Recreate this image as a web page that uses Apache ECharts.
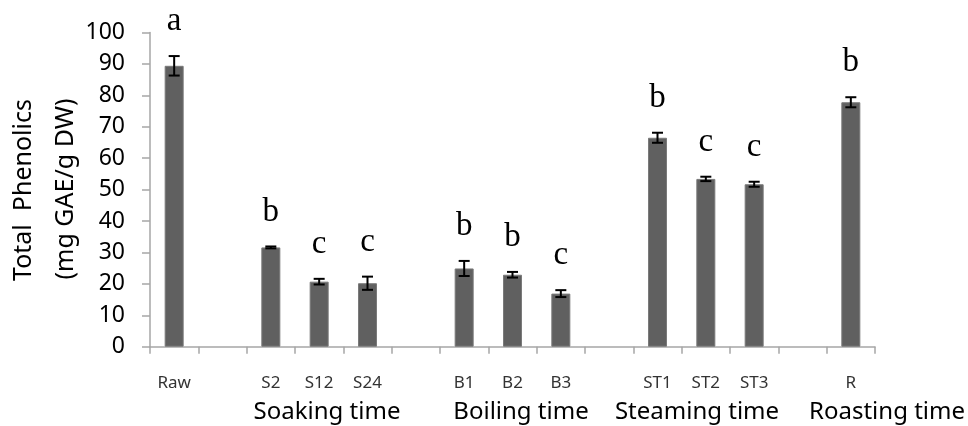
<!DOCTYPE html>
<html>
<head>
<meta charset="utf-8">
<script src="https://cdn.jsdelivr.net/npm/echarts@6/dist/echarts.min.js"></script>
<style>html,body{margin:0;padding:0;background:#fff}#c{width:968px;height:426px}</style>
</head>
<body>
<div id="c"></div>
<script>
const categories = ['Raw','','S2','S12','S24','','B1','B2','B3','','ST1','ST2','ST3','','R'];
const means = [89.4,null,31.6,20.7,20.2,null,24.9,22.9,16.9,null,66.5,53.4,51.7,null,77.8];
const errors = [3.1,null,0.3,0.9,2.1,null,2.4,0.9,1.1,null,1.6,0.7,0.8,null,1.6];
const letters = ['a','','b','c','c','','b','b','c','','b','c','c','','b'];
const groupLabels = ['Soaking time','Boiling time','Steaming time','Roasting time'];
const yAxisTitle = ['Total  Phenolics','(mg GAE/g DW)'];
const yMin = 0, yMax = 100, yStep = 10;

const errData = [];
means.forEach((m, i) => { if (m !== null) errData.push([i, m, errors[i]]); });

const chart = echarts.init(document.getElementById('c'));
const sans = 'Noto Sans';
const groupX = [327, 521, 697, 887];
chart.setOption({
  animation: false,
  grid: {left: 150, right: 93, top: 32.5, bottom: 79.3, containLabel: false},
  xAxis: {
    type: 'category', data: categories,
    axisLine: {lineStyle: {color: '#a6a6a6', width: 1.5}},
    axisTick: {show: true, length: 7, lineStyle: {color: '#a6a6a6', width: 1.5}},
    axisLabel: {color: '#333', fontFamily: sans, fontSize: 17, margin: 28, interval: 0}
  },
  yAxis: {
    type: 'value', min: yMin, max: yMax, interval: yStep,
    splitLine: {show: false},
    axisLine: {show: true, lineStyle: {color: '#a6a6a6', width: 1.5}},
    axisTick: {show: true, length: 8, lineStyle: {color: '#a6a6a6', width: 1.5}},
    axisLabel: {color: '#000', fontFamily: sans, fontSize: 23, margin: 25}
  },
  series: [
    {type: 'bar', data: means, barWidth: 19,
     itemStyle: {color: '#606060', borderColor: '#7a7a7a', borderWidth: 1}},
    {type: 'custom', data: errData, clip: false, z: 5,
     renderItem: function (params, api) {
       const i = api.value(0), m = api.value(1), e = api.value(2);
       const hi = api.coord([i, m + e]);
       const lo = api.coord([i, m - e]);
       const w = 5.5;
       const st = {stroke: '#000', lineWidth: 2};
       return {type: 'group', children: [
         {type: 'line', shape: {x1: hi[0], y1: hi[1], x2: lo[0], y2: lo[1]}, style: st},
         {type: 'line', shape: {x1: hi[0] - w, y1: hi[1], x2: hi[0] + w, y2: hi[1]}, style: st},
         {type: 'line', shape: {x1: lo[0] - w, y1: lo[1], x2: lo[0] + w, y2: lo[1]}, style: st},
         {type: 'text', style: {text: letters[i], x: hi[0], y: hi[1] - 18, align: 'center', verticalAlign: 'bottom',
           fontFamily: 'Liberation Serif', fontSize: 33, fill: '#000'}}
       ]};
     }}
  ],
  graphic: [
    ...groupLabels.map((t, k) => ({type: 'text', x: groupX[k], y: 412, style: {text: t, align: 'center', verticalAlign: 'middle', fontFamily: sans, fontSize: 24, fill: '#000'}})),
    {type: 'text', x: 24, y: 190, rotation: Math.PI / 2, style: {text: yAxisTitle[0], align: 'center', verticalAlign: 'middle', fontFamily: sans, fontSize: 25, fill: '#000'}},
    {type: 'text', x: 66, y: 189, rotation: Math.PI / 2, style: {text: yAxisTitle[1], align: 'center', verticalAlign: 'middle', fontFamily: sans, fontSize: 25, fill: '#000'}}
  ]
});
</script>
</body>
</html>
